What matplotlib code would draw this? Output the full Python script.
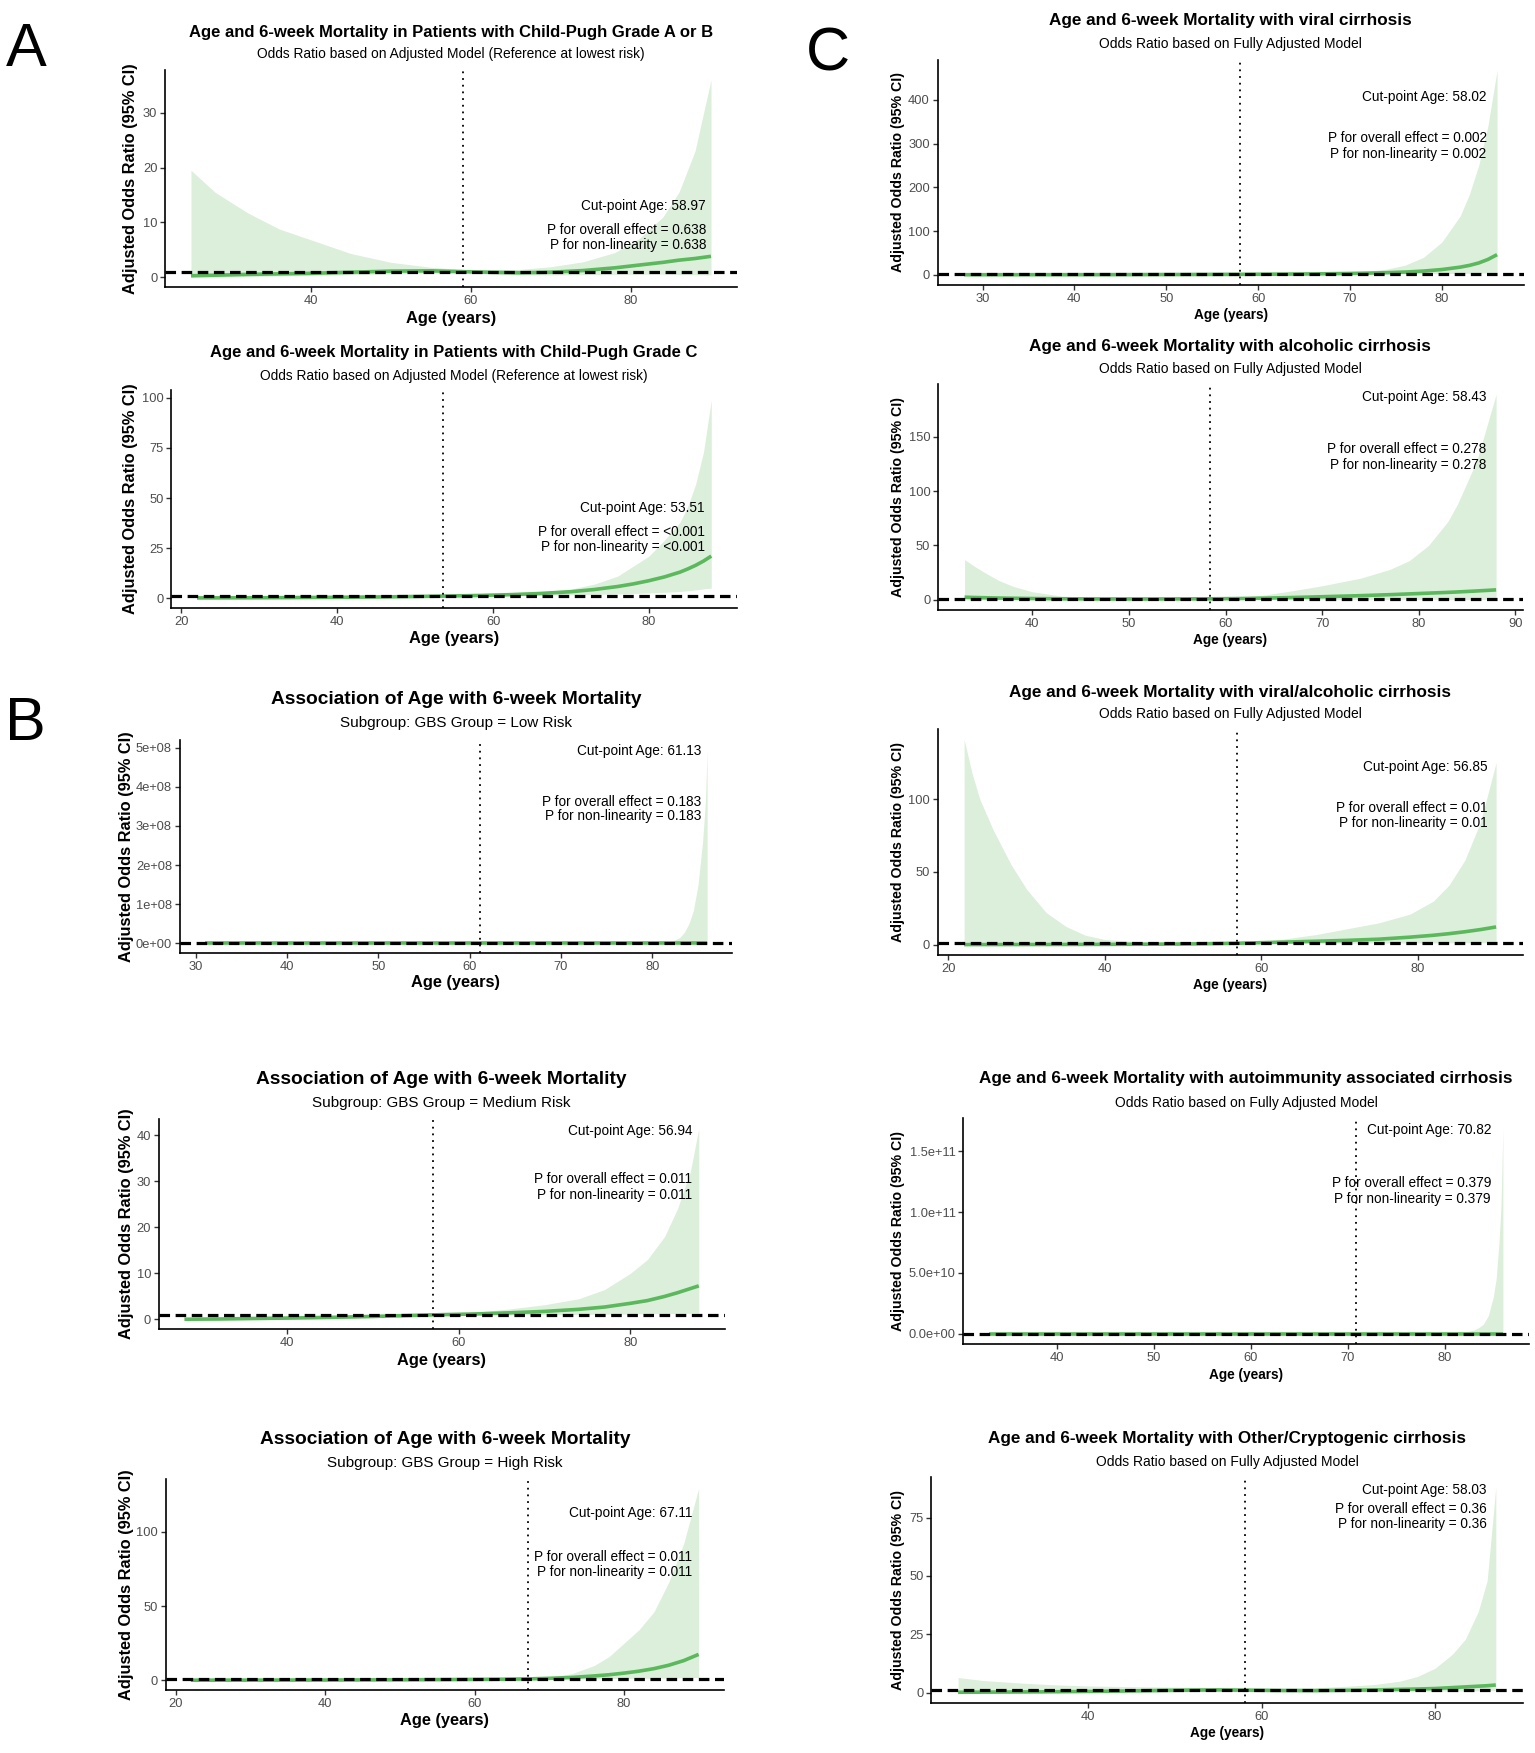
import matplotlib
matplotlib.use("Agg")
import matplotlib.pyplot as plt

plt.rcParams['font.family'] = ['Liberation Sans', 'DejaVu Sans']

# ---------------- data ----------------
# A1: Child-Pugh Grade A or B
a1_age = [25, 28, 32, 36, 40, 45, 50, 55, 59, 62, 66, 70, 74, 78, 81, 84, 86, 88, 90]
a1_or = [0.25, 0.35, 0.5, 0.6, 0.7, 0.9, 1.1, 1.15, 1.0, 0.9, 0.8, 0.9, 1.2, 1.7, 2.2, 2.7, 3.1, 3.4, 3.8]
a1_lo = [0.0, 0.05, 0.1, 0.2, 0.3, 0.45, 0.6, 0.75, 0.7, 0.6, 0.45, 0.4, 0.45, 0.5, 0.55, 0.55, 0.5, 0.45, 0.4]
a1_hi = [19.5, 15.5, 11.8, 8.8, 6.8, 4.3, 2.7, 1.8, 1.4, 1.3, 1.4, 1.9, 2.8, 4.5, 7.0, 11.0, 15.5, 23.0, 36.0]

# A2: Child-Pugh Grade C
a2_age = [22, 28, 34, 40, 46, 50, 53.5, 58, 62, 66, 70, 73, 76, 78, 80, 82, 84, 85, 86, 87, 88]
a2_or = [0.1, 0.15, 0.25, 0.4, 0.6, 0.8, 1.0, 1.3, 1.7, 2.3, 3.2, 4.3, 5.8, 7.1, 8.7, 10.6, 13.0, 14.6, 16.4, 18.5, 21.0]
a2_lo = [0.01, 0.03, 0.07, 0.15, 0.3, 0.5, 0.8, 1.05, 1.3, 1.5, 1.7, 1.9, 2.1, 2.3, 2.6, 2.9, 3.3, 3.7, 4.1, 4.6, 5.0]
a2_hi = [0.8, 0.8, 0.85, 0.9, 1.0, 1.1, 1.2, 1.6, 2.2, 3.0, 4.5, 7.0, 11.0, 16.0, 21.0, 29.0, 38.0, 46.0, 57.0, 73.0, 99.0]

# B1: GBS low risk
b1_age = [31, 40, 50, 60, 70, 76, 80, 82, 82.5, 83, 83.5, 84, 84.5, 85, 85.5, 85.8, 86]
b1_or = [0.3, 0.5, 0.8, 1.0, 1.5, 3, 8, 15, 20, 30, 45, 70, 110, 180, 300, 400, 500]
b1_lo = [0.0, 0.01, 0.05, 0.2, 0.3, 0.3, 0.2, 0.2, 0.2, 0.2, 0.2, 0.2, 0.2, 0.2, 0.2, 0.2, 0.2]
b1_hi = [2, 4, 10, 50, 2e4, 3e5, 2e6, 5e6, 9e6, 1.5e7, 2.8e7, 5.0e7, 8.5e7, 1.5e8, 2.6e8, 3.6e8, 4.95e8]

# B2: GBS medium risk
b2_age = [28, 32, 36, 40, 45, 50, 54, 57, 62, 66, 70, 74, 77, 80, 82, 84, 85.5, 87, 88]
b2_or = [0.05, 0.1, 0.2, 0.3, 0.45, 0.65, 0.85, 1.0, 1.2, 1.45, 1.75, 2.2, 2.7, 3.5, 4.1, 5.0, 5.8, 6.7, 7.3]
b2_lo = [0.0, 0.02, 0.05, 0.1, 0.2, 0.4, 0.65, 0.85, 0.95, 1.0, 1.05, 1.1, 1.15, 1.2, 1.25, 1.3, 1.3, 1.35, 1.35]
b2_hi = [0.3, 0.35, 0.45, 0.55, 0.7, 0.85, 1.0, 1.2, 1.6, 2.3, 3.2, 4.5, 6.5, 10.0, 13.0, 18.0, 24.0, 32.0, 41.5]

# B3: GBS high risk
b3_age = [22, 30, 38, 46, 54, 60, 64, 67.1, 70, 73, 76, 78, 80, 82, 84, 86, 88, 90]
b3_or = [0.15, 0.2, 0.25, 0.35, 0.5, 0.65, 0.8, 1.0, 1.4, 2.0, 3.0, 3.8, 4.9, 6.2, 7.9, 10.2, 13.3, 17.5]
b3_lo = [0.0, 0.02, 0.05, 0.1, 0.2, 0.35, 0.6, 0.9, 1.0, 1.0, 1.1, 1.2, 1.3, 1.4, 1.5, 1.6, 1.8, 2.0]
b3_hi = [0.6, 0.6, 0.65, 0.7, 0.8, 0.9, 1.0, 1.1, 2.0, 4.5, 10.0, 16.0, 25.0, 34.0, 46.0, 66.0, 92.0, 129.0]

# C1: viral cirrhosis
c1_age = [28, 34, 40, 46, 52, 58, 62, 66, 70, 72, 74, 76, 78, 80, 82, 83, 84, 85, 86]
c1_or = [0.1, 0.15, 0.2, 0.35, 0.6, 1.0, 1.4, 2.0, 3.0, 3.8, 4.8, 6.2, 8.5, 12.0, 17.5, 21.5, 27.0, 35.0, 46.0]
c1_lo = [0.0, 0.01, 0.03, 0.08, 0.3, 0.8, 1.0, 1.2, 1.5, 1.7, 1.9, 2.1, 2.4, 2.7, 3.1, 3.4, 3.8, 4.3, 4.8]
c1_hi = [0.8, 0.8, 0.8, 0.9, 1.0, 1.2, 1.8, 3.0, 5.5, 8.0, 13.0, 22.0, 40.0, 75.0, 135.0, 185.0, 250.0, 340.0, 468.0]

# C2: alcoholic cirrhosis
c2_age = [33, 34, 35, 36.5, 38, 40, 43, 47, 52, 58.4, 61, 64, 67, 70, 74, 77, 79, 81, 83, 84, 86, 88]
c2_or = [2.5, 2.2, 2.0, 1.7, 1.5, 1.25, 1.0, 0.85, 0.8, 1.0, 1.2, 1.6, 2.2, 2.9, 3.9, 4.8, 5.5, 6.2, 6.9, 7.3, 8.2, 9.2]
c2_lo = [0.17, 0.16, 0.15, 0.15, 0.16, 0.18, 0.22, 0.3, 0.45, 0.8, 0.72, 0.6, 0.55, 0.5, 0.48, 0.45, 0.43, 0.42, 0.41, 0.4, 0.4, 0.4]
c2_hi = [37, 31, 25.5, 18, 12.5, 7.5, 3.5, 2.0, 1.5, 1.2, 2.0, 4.5, 8.5, 13, 20, 28, 36, 50, 72, 88, 128, 189]

# C3: viral/alcoholic cirrhosis
c3_age = [22, 23, 24, 25.7, 28, 30, 32.5, 35, 37.5, 40, 45, 50, 56.85, 60, 63, 67, 71, 75, 79, 82, 84, 86, 88, 90]
c3_or = [0.1, 0.1, 0.1, 0.12, 0.13, 0.15, 0.17, 0.2, 0.22, 0.25, 0.35, 0.5, 1.0, 1.4, 1.8, 2.4, 3.0, 3.8, 5.2, 6.5, 7.6, 8.9, 10.4, 12.2]
c3_lo = [0.0, 0.0, 0.0, 0.0, 0.0, 0.01, 0.01, 0.02, 0.03, 0.05, 0.1, 0.25, 0.85, 0.95, 1.0, 1.05, 1.1, 1.15, 1.2, 1.25, 1.3, 1.35, 1.4, 1.45]
c3_hi = [141, 118, 100, 79, 55, 38, 22, 12.6, 6.5, 3.6, 1.8, 1.3, 1.1, 2.0, 4.0, 7.0, 11.0, 15.0, 21.0, 30.0, 41.0, 58.0, 84.0, 125.0]

# C4: autoimmunity associated cirrhosis
c4_age = [33, 40, 50, 60, 70.82, 78, 82, 83, 83.5, 84, 84.5, 85, 85.3, 85.6, 85.8, 86]
c4_or = [0.5, 0.6, 0.7, 0.85, 1.0, 1.5, 5, 8, 10, 15, 20, 30, 40, 50, 60, 70]
c4_lo = [0.02, 0.03, 0.05, 0.1, 0.5, 0.3, 0.1, 0.1, 0.1, 0.1, 0.1, 0.1, 0.1, 0.1, 0.1, 0.1]
c4_hi = [3, 5, 10, 30, 300, 1e5, 1e9, 3e9, 5e9, 8e9, 1.5e10, 3.0e10, 4.5e10, 7.5e10, 1.05e11, 1.69e11]

# C5: other/cryptogenic cirrhosis
c5_age = [25, 28, 32, 36, 40, 45, 50, 55, 58, 62, 66, 70, 73, 76, 78, 80, 82, 83.5, 85, 86, 87]
c5_or = [0.2, 0.25, 0.33, 0.42, 0.55, 0.8, 1.05, 1.2, 1.1, 0.95, 0.9, 1.05, 1.2, 1.45, 1.6, 1.8, 2.2, 2.5, 2.8, 3.0, 3.3]
c5_lo = [0.0, 0.01, 0.02, 0.05, 0.1, 0.2, 0.4, 0.6, 0.6, 0.5, 0.45, 0.45, 0.5, 0.55, 0.6, 0.65, 0.7, 0.75, 0.8, 0.85, 0.9]
c5_hi = [6.5, 5.2, 4.2, 3.4, 2.9, 2.6, 2.4, 2.2, 2.0, 1.9, 2.1, 2.8, 3.5, 5.0, 7.0, 10.5, 16.5, 23.0, 35.0, 48.0, 88.0]

cut_points = [58.97, 53.51, 61.13, 56.94, 67.11, 58.02, 58.43, 56.85, 70.82, 58.03]
p_values = ["0.638", "<0.001", "0.183", "0.011", "0.011", "0.002", "0.278", "0.01", "0.379", "0.36"]

titles = [
    "Age and 6-week Mortality in Patients with Child-Pugh Grade A or B",
    "Age and 6-week Mortality in Patients with Child-Pugh Grade C",
    "Association of Age with 6-week Mortality",
    "Association of Age with 6-week Mortality",
    "Association of Age with 6-week Mortality",
    "Age and 6-week Mortality with viral cirrhosis",
    "Age and 6-week Mortality with alcoholic cirrhosis",
    "Age and 6-week Mortality with viral/alcoholic cirrhosis",
    "Age and 6-week Mortality with autoimmunity associated cirrhosis",
    "Age and 6-week Mortality with Other/Cryptogenic cirrhosis",
]
subtitles = [
    "Odds Ratio based on Adjusted Model (Reference at lowest risk)",
    "Odds Ratio based on Adjusted Model (Reference at lowest risk)",
    "Subgroup: GBS Group = Low Risk",
    "Subgroup: GBS Group = Medium Risk",
    "Subgroup: GBS Group = High Risk",
    "Odds Ratio based on Fully Adjusted Model",
    "Odds Ratio based on Fully Adjusted Model",
    "Odds Ratio based on Fully Adjusted Model",
    "Odds Ratio based on Fully Adjusted Model",
    "Odds Ratio based on Fully Adjusted Model",
]

x_ticks = [
    [40, 60, 80], [20, 40, 60, 80], [30, 40, 50, 60, 70, 80], [40, 60, 80], [20, 40, 60, 80],
    [30, 40, 50, 60, 70, 80], [40, 50, 60, 70, 80, 90], [20, 40, 60, 80], [40, 50, 60, 70, 80], [40, 60, 80],
]
y_ticks = [
    [0, 10, 20, 30], [0, 25, 50, 75, 100], [0, 1e8, 2e8, 3e8, 4e8, 5e8], [0, 10, 20, 30, 40], [0, 50, 100],
    [0, 100, 200, 300, 400], [0, 50, 100, 150], [0, 50, 100], [0, 5e10, 1e11, 1.5e11], [0, 25, 50, 75],
]
y_ticklabels = [
    ["0", "10", "20", "30"], ["0", "25", "50", "75", "100"],
    ["0e+00", "1e+08", "2e+08", "3e+08", "4e+08", "5e+08"], ["0", "10", "20", "30", "40"], ["0", "50", "100"],
    ["0", "100", "200", "300", "400"], ["0", "50", "100", "150"], ["0", "50", "100"],
    ["0.0e+00", "5.0e+10", "1.0e+11", "1.5e+11"], ["0", "25", "50", "75"],
]

series = [
    (a1_age, a1_or, a1_lo, a1_hi), (a2_age, a2_or, a2_lo, a2_hi),
    (b1_age, b1_or, b1_lo, b1_hi), (b2_age, b2_or, b2_lo, b2_hi), (b3_age, b3_or, b3_lo, b3_hi),
    (c1_age, c1_or, c1_lo, c1_hi), (c2_age, c2_or, c2_lo, c2_hi), (c3_age, c3_or, c3_lo, c3_hi),
    (c4_age, c4_or, c4_lo, c4_hi), (c5_age, c5_or, c5_lo, c5_hi),
]

# ---------------- layout (pixels in the 1535x1753 canvas) ----------------
W, H = 1535, 1753
# box = (left, top, right, bottom); title/sub/xlab y; ylab x; note right x; note ys
layout = [
    dict(box=(165, 70, 737, 287), ty=32, sy=54, xly=318, ylx=131, nx=706, ny=(206, 230, 245), grp="A"),
    dict(box=(171.3, 390, 737, 608), ty=353, sy=376, xly=638, ylx=131, nx=705, ny=(508, 532, 547), grp="A"),
    dict(box=(179.6, 740, 732.3, 953), ty=699, sy=723, xly=983, ylx=127, nx=701, ny=(751, 802, 816), grp="B"),
    dict(box=(158.7, 1119, 724.5, 1329), ty=1080, sy=1103, xly=1360, ylx=127, nx=692, ny=(1131, 1179, 1195), grp="B"),
    dict(box=(165.5, 1479, 724, 1690), ty=1439, sy=1463, xly=1720, ylx=126, nx=692, ny=(1513, 1557, 1572), grp="B"),
    dict(box=(937.5, 60, 1523.7, 285), ty=21, sy=44, xly=315, ylx=898, nx=1486.5, ny=(97, 138, 154), grp="C"),
    dict(box=(938, 384, 1522.7, 610), ty=346, sy=369, xly=640, ylx=898, nx=1486.5, ny=(397, 449, 465), grp="C"),
    dict(box=(937.5, 729, 1522.7, 955), ty=692, sy=714, xly=985, ylx=898, nx=1487.5, ny=(767, 808, 823), grp="C"),
    dict(box=(963.3, 1118, 1528.6, 1344), ty=1079, sy=1103, xly=1375, ylx=898, nx=1491, ny=(1130, 1183, 1199), grp="C"),
    dict(box=(931.2, 1477, 1522.7, 1703), ty=1439, sy=1462, xly=1733, ylx=898, nx=1486.5, ny=(1490, 1509, 1524), grp="C"),
]
fonts = {
    "A": dict(title=12.0, sub=9.9, xlab=11.9, ylab=11.8),
    "B": dict(title=13.8, sub=11.0, xlab=11.8, ylab=11.8),
    "C": dict(title=12.3, sub=10.0, xlab=9.8, ylab=10.2),
}

LINE = "#5cb85c"
FILL = "#dcefdb"


def fx(px):
    return px / W


def fy(py):
    return 1 - py / H


fig = plt.figure(figsize=(W / 100, H / 100), dpi=100)

for i, (age, orv, lo, hi) in enumerate(series):
    lay = layout[i]
    fs = fonts[lay["grp"]]
    L, T, R, B = lay["box"]
    ax = fig.add_axes([fx(L), fy(B), (R - L) / W, (B - T) / H])
    ax.fill_between(age, lo, hi, color=FILL, linewidth=0, zorder=1)
    ax.plot(age, orv, color=LINE, lw=2.6, solid_capstyle="butt", zorder=2)
    ax.margins(x=0.05, y=0.05)
    xl, yl = ax.get_xlim(), ax.get_ylim()
    ax.axhline(1, color="black", lw=2.3, dashes=(3.3, 1.75), zorder=3)
    ax.axvline(cut_points[i], color="black", lw=1.3, linestyle=(0, (1, 2.7)), zorder=3)
    ax.set_xticks(x_ticks[i])
    ax.set_xticklabels([str(t) for t in x_ticks[i]])
    ax.set_yticks(y_ticks[i])
    ax.set_yticklabels(y_ticklabels[i])
    ax.set_xlim(xl)
    ax.set_ylim(yl)
    for side in ("top", "right"):
        ax.spines[side].set_visible(False)
    for side in ("left", "bottom"):
        ax.spines[side].set_linewidth(1.2)
        ax.spines[side].set_color("black")
    ax.tick_params(labelsize=9.3, labelcolor="#4d4d4d", color="#333333", length=3.5, width=1, pad=2)

    cx = (L + R) / 2
    fig.text(fx(cx), fy(lay["ty"]), titles[i], ha="center", va="center", fontsize=fs["title"], fontweight="bold")
    fig.text(fx(cx), fy(lay["sy"]), subtitles[i], ha="center", va="center", fontsize=fs["sub"])
    fig.text(fx(cx), fy(lay["xly"]), "Age (years)", ha="center", va="center", fontsize=fs["xlab"], fontweight="bold")
    fig.text(fx(lay["ylx"]), fy((T + B) / 2), "Adjusted Odds Ratio (95% CI)", ha="center", va="center",
             rotation=90, fontsize=fs["ylab"], fontweight="bold")

    notes = [f"Cut-point Age: {cut_points[i]:.2f}",
             f"P for overall effect = {p_values[i]}",
             f"P for non-linearity = {p_values[i]}"]
    for txt, ny in zip(notes, lay["ny"]):
        fig.text(fx(lay["nx"]), fy(ny), txt, ha="right", va="center", fontsize=9.8, zorder=5)

# panel letters
fig.text(fx(26), fy(50), "A", ha="center", va="center", fontsize=44)
fig.text(fx(25), fy(725), "B", ha="center", va="center", fontsize=44)
fig.text(fx(828), fy(55), "C", ha="center", va="center", fontsize=44)

fig.savefig("out.png", dpi=100)
